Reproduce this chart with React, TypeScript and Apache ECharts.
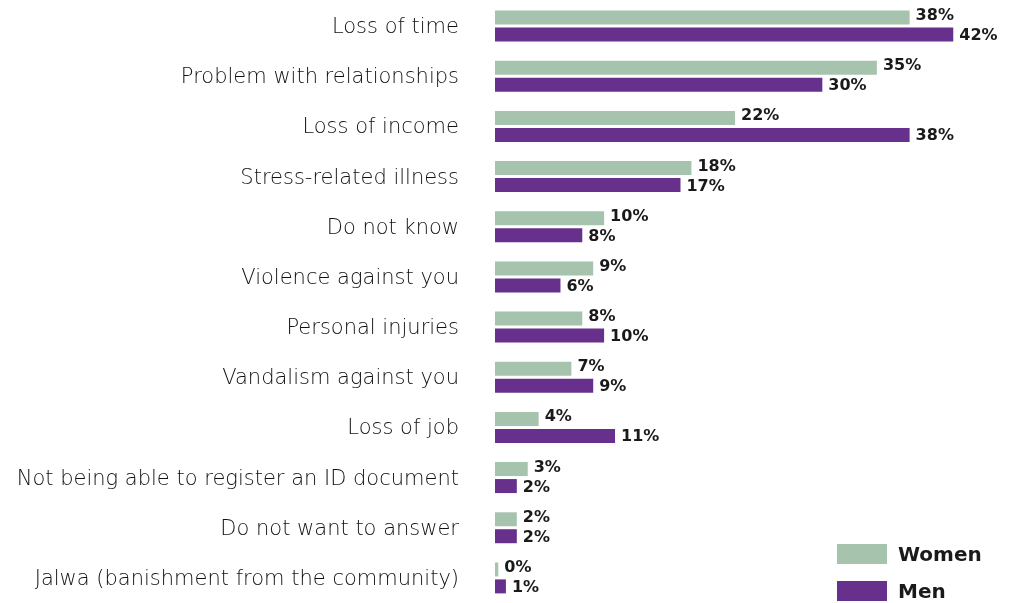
import React, { useEffect, useRef } from "react";
import * as echarts from "echarts";

const categories = [
  "Loss of time",
  "Problem with relationships",
  "Loss of income",
  "Stress-related illness",
  "Do not know",
  "Violence against you",
  "Personal injuries",
  "Vandalism against you",
  "Loss of job",
  "Not being able to register an ID document",
  "Do not want to answer",
  "Jalwa (banishment from the community)",
];
const women = [38, 35, 22, 18, 10, 9, 8, 7, 4, 3, 2, 0.3];
const men = [42, 30, 38, 17, 8, 6, 10, 9, 11, 2, 2, 1];

const GREEN = "#a6c4ad";
const PURPLE = "#67308c";

export default function App() {
  const ref = useRef<HTMLDivElement>(null);
  useEffect(() => {
    if (!ref.current) return;
    const chart = echarts.init(ref.current, null, { renderer: "svg" });
    const label = {
      show: true,
      position: "right",
      distance: 6,
      color: "#1a1a1a",
      fontFamily: "DejaVu Sans",
      fontWeight: "bold",
      fontSize: 16,
      lineHeight: 15,
      formatter: (p: any) => Math.round(p.value) + "%",
    };
    chart.setOption({
      animation: false,
      legend: {
        orient: "vertical",
        left: 837,
        top: 544,
        padding: 0,
        height: 120,
        itemWidth: 50,
        itemHeight: 20,
        itemGap: 17,
        icon: "rect",
        textStyle: {
          fontFamily: "DejaVu Sans",
          fontWeight: "bold",
          fontSize: 20,
          lineHeight: 18,
          color: "#1a1a1a",
          padding: [0, 0, 0, 6],
        },
        data: ["Women", "Men"],
      },
      grid: { left: 495, top: 1, width: 491, height: 606 },
      xAxis: { type: "value", min: 0, max: 45, show: false },
      yAxis: {
        type: "category",
        inverse: true,
        data: categories,
        axisLine: { show: false },
        axisTick: { show: false },
        axisLabel: {
          margin: 36,
          fontFamily: "DejaVu Sans",
          fontWeight: 200,
          fontSize: 21,
          color: "#111",
        },
      },
      series: [
        {
          name: "Women",
          type: "bar",
          data: women,
          barWidth: 14,
          barGap: "21%",
          itemStyle: { color: GREEN },
          label: { ...label, offset: [0, -3] },
        },
        {
          name: "Men",
          type: "bar",
          data: men,
          barWidth: 14,
          itemStyle: { color: PURPLE },
          label,
        },
      ],
    });
    return () => chart.dispose();
  }, []);
  return (
    <div
      ref={ref}
      style={{ position: "fixed", left: 0, top: 0, width: 1017, height: 603 }}
    />
  );
}
